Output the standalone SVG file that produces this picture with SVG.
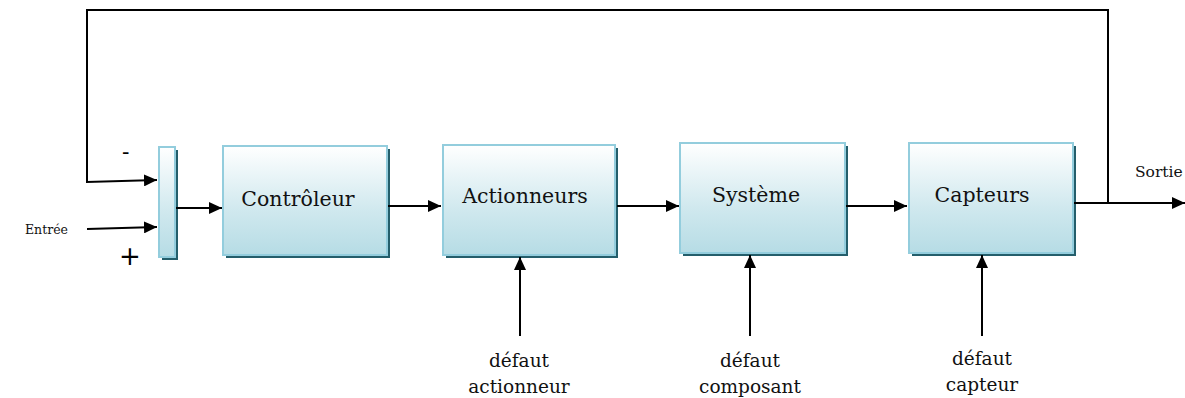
<svg xmlns="http://www.w3.org/2000/svg" width="1185" height="398" viewBox="0 0 1185 398">
<style>
.box{fill:url(#g);stroke:#93cddd;stroke-width:2}
.sh{fill:#245e6b}
.t{font-family:"DejaVu Serif",serif;font-size:20.5px;fill:#111}
.s{font-family:"DejaVu Serif",serif;font-size:18.5px;fill:#111}
.c{fill:none;stroke:#000;stroke-width:2}
</style>
<defs>
<linearGradient id="g" x1="0" y1="0" x2="0" y2="1">
<stop offset="0" stop-color="#ffffff"/>
<stop offset="0.6" stop-color="#cfe8ee"/>
<stop offset="1" stop-color="#b6dce5"/>
</linearGradient>
<marker id="a" viewBox="0 0 13 12" refX="13" refY="6" markerWidth="13" markerHeight="12" markerUnits="userSpaceOnUse" orient="auto">
<path d="M0,0 L13,6 L0,12 z" fill="#000"/>
</marker>
</defs>
<g id="comparateur">
<rect class="sh" x="162" y="150" width="16" height="110"/>
<rect class="box" x="159" y="147" width="16" height="110"/>
<text x="122" y="159" style="font-family:'DejaVu Serif',serif;font-size:22px">-</text>
<text x="119" y="265" style="font-family:'DejaVu Sans',sans-serif;font-size:26px">+</text>
</g>
<g id="controleur">
<rect class="sh" x="226" y="149" width="164" height="109"/>
<rect class="box" x="223" y="146" width="164" height="109"/>
<text class="t" x="298" y="206" text-anchor="middle">Contrôleur</text>
</g>
<g id="actionneurs">
<rect class="sh" x="446" y="148" width="172" height="110"/>
<rect class="box" x="443" y="145" width="172" height="110"/>
<text class="t" x="525" y="203" text-anchor="middle">Actionneurs</text>
</g>
<g id="systeme">
<rect class="sh" x="683" y="146" width="165" height="110"/>
<rect class="box" x="680" y="143" width="165" height="110"/>
<text class="t" x="756" y="202" text-anchor="middle">Système</text>
</g>
<g id="capteurs">
<rect class="sh" x="912" y="146" width="164" height="110"/>
<rect class="box" x="909" y="143" width="164" height="110"/>
<text class="t" x="982" y="202" text-anchor="middle">Capteurs</text>
</g>
<g id="labels">
<text class="s" x="25" y="234" style="font-size:12.5px">Entrée</text>
<text class="s" x="1135" y="177" style="font-size:15.5px">Sortie</text>
<text class="s" x="519" y="367" text-anchor="middle">défaut</text>
<text class="s" x="519" y="393" text-anchor="middle">actionneur</text>
<text class="s" x="750" y="367" text-anchor="middle">défaut</text>
<text class="s" x="750" y="393" text-anchor="middle">composant</text>
<text class="s" x="982" y="365" text-anchor="middle">défaut</text>
<text class="s" x="982" y="391" text-anchor="middle">capteur</text>
</g>
<g id="connecteurs">
<polyline class="c" points="1108,203 1108,10 87,10 87,182 157,180" marker-end="url(#a)"/>
<line class="c" x1="87" y1="229" x2="157" y2="227" marker-end="url(#a)"/>
<line class="c" x1="176" y1="208" x2="222" y2="208" marker-end="url(#a)"/>
<line class="c" x1="388" y1="206" x2="441" y2="206" marker-end="url(#a)"/>
<line class="c" x1="617" y1="206" x2="679" y2="206" marker-end="url(#a)"/>
<line class="c" x1="846" y1="206" x2="907" y2="206" marker-end="url(#a)"/>
<line class="c" x1="1074" y1="203" x2="1185" y2="203" marker-end="url(#a)"/>
<line class="c" x1="520" y1="336" x2="520" y2="257" marker-end="url(#a)"/>
<line class="c" x1="750" y1="336" x2="750" y2="255" marker-end="url(#a)"/>
<line class="c" x1="982" y1="336" x2="982" y2="255" marker-end="url(#a)"/>
</g>
</svg>
